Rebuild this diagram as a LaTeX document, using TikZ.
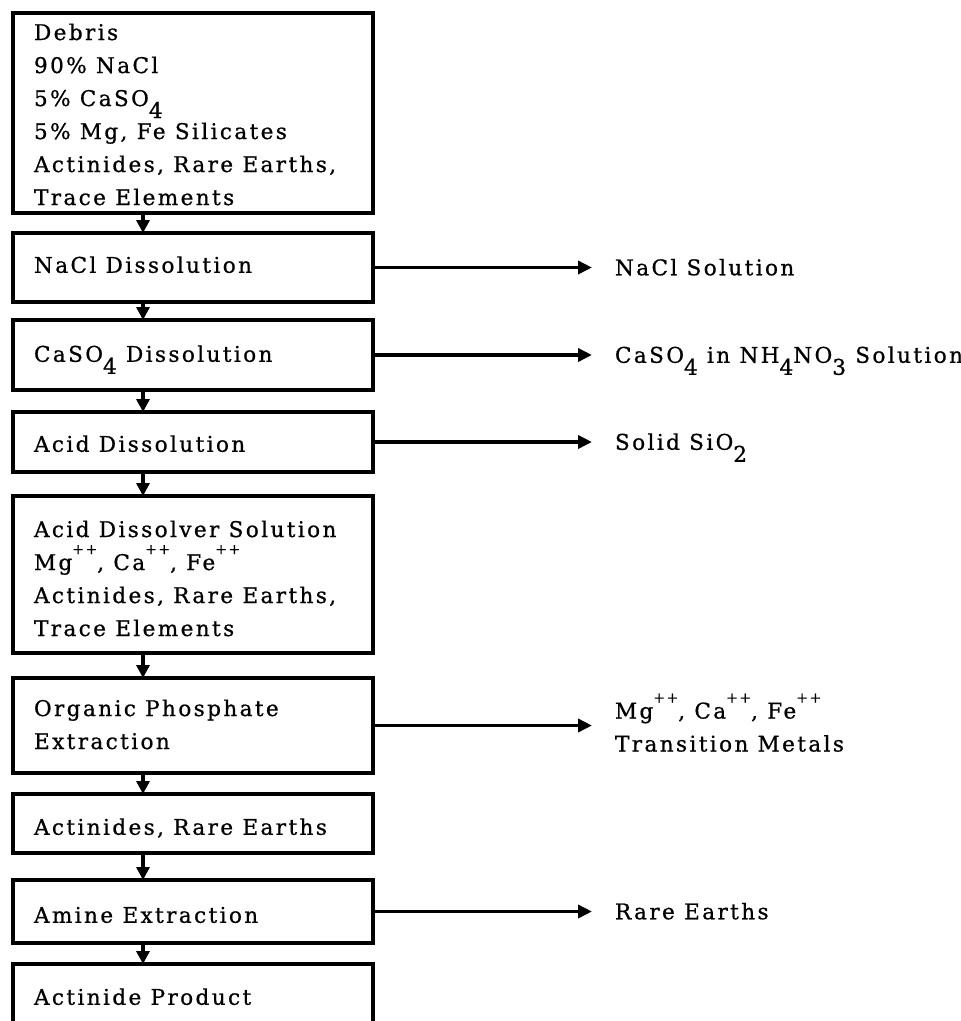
\documentclass[tikz,border=0pt]{standalone}
\usepackage{fontspec}
\setmainfont{DejaVu Serif}[LetterSpace=11,FakeBold=0.8]
\usetikzlibrary{arrows.meta}
\newcommand{\dn}[1]{\raisebox{-12pt}{#1}}
\newcommand{\up}[1]{\raisebox{16pt}{\fontsize{14pt}{14pt}\selectfont #1}}
\begin{document}
\begin{tikzpicture}[x=1pt,y=-1pt]
\tikzset{
 box/.style={draw, line width=3.5pt, minimum width=360pt, inner sep=0pt, outer sep=0pt, anchor=north west},
 txt/.style={inner sep=0pt, outer sep=0pt, align=left, font=\fontsize{21.6pt}{33pt}\selectfont},
 one/.style={txt, anchor=west, text height=15.5pt, text depth=0pt},
 varr/.style={line width=3.5pt, -{Triangle[length=13pt,width=13pt]}},
 harr/.style={line width=3.5pt, -{Triangle[length=14pt,width=13pt]}},
}
\useasboundingbox (0,0) rectangle (961,1021);
\clip (0,0) rectangle (961,1021);
% boxes
\node[box, minimum height=200pt] (b1) at (13,13) {};
\node[box, minimum height=69pt] (b2) at (13,233) {};
\node[box, minimum height=70pt] (b3) at (13,320) {};
\node[box, minimum height=60pt] (b4) at (13,412) {};
\node[box, minimum height=157pt] (b5) at (13,496) {};
\node[box, minimum height=95pt] (b6) at (13,678) {};
\node[box, minimum height=59pt] (b7) at (13,794) {};
\node[box, minimum height=63pt] (b8) at (13,880) {};
\node[box, minimum height=90pt] (b9) at (13,964) {};
% texts (base = baseline of the last line)
\node[txt, anchor=base west] (t1) at (34,205) {Debris\\90\% NaCl\\5\% CaSO\dn{4}\\5\% Mg, Fe Silicates\\Actinides, Rare Earths,\\Trace Elements};
\node[one] (t2) at (34,265) {NaCl Dissolution};
\node[one] (t3) at (34,354) {CaSO\dn{4} Dissolution};
\node[one] (t4) at (34,444) {Acid Dissolution};
\node[txt, anchor=base west] (t5) at (34,636) {Acid Dissolver Solution\\Mg\up{++}, Ca\up{++}, Fe\up{++}\\Actinides, Rare Earths,\\Trace Elements};
\node[txt, anchor=base west] (t6) at (34,749) {Organic Phosphate\\Extraction};
\node[one] (t7) at (34,827) {Actinides, Rare Earths};
\node[one] (t8) at (34,915) {Amine Extraction};
\node[one] (t9) at (34,997) {Actinide Product};
% vertical arrows
\foreach \a/\b in {b1/b2,b2/b3,b3/b4,b4/b5,b5/b6,b6/b7,b7/b8,b8/b9}
  \draw[varr] ([xshift=-50pt]\a.south) -- ([xshift=-50pt]\b.north);
% side arrows
\draw[harr] (b2.east) -- ++(219,0) coordinate (e2);
\draw[harr] (b3.east) -- ++(219,0) coordinate (e3);
\draw[harr] (b4.east) -- ++(219,0) coordinate (e4);
\draw[harr] (b6.east) -- ++(219,0) coordinate (e6);
\draw[harr] (b8.east) -- ++(219,0) coordinate (e8);
% labels
\node[one] (l2) at ([xshift=23pt]e2) {NaCl Solution};
\node[one] (l3) at ([xshift=23pt]e3) {CaSO\dn{4} in NH\dn{4}NO\dn{3} Solution};
\node[one] (l4) at ([xshift=23pt]e4) {Solid SiO\dn{2}};
\node[txt, anchor=base west] (l6) at ([xshift=23pt,yshift=-26pt]e6) {Mg\up{++}, Ca\up{++}, Fe\up{++}\\Transition Metals};
\node[one] (l8) at ([xshift=23pt]e8) {Rare Earths};
\end{tikzpicture}
\end{document}
